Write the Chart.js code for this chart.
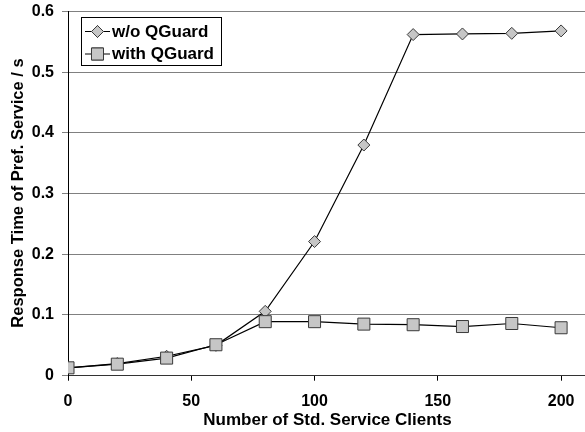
<!DOCTYPE html>
<html><head><meta charset="utf-8">
<script src="https://cdn.jsdelivr.net/npm/chart.js@4/dist/chart.umd.min.js"></script>
<style>html,body{margin:0;padding:0;background:#fff}#wrap{width:585px;height:432px;position:relative}</style>
</head><body><div id="wrap"><canvas id="c" width="585" height="432"></canvas></div>
<script>
const clients = [0, 20, 40, 60, 80, 100, 120, 140, 160, 180, 200];
const withoutQGuard = [0.013, 0.020, 0.032, 0.050, 0.106, 0.221, 0.380, 0.562, 0.563, 0.564, 0.568];
const withQGuard = [0.013, 0.019, 0.029, 0.051, 0.089, 0.089, 0.085, 0.084, 0.081, 0.086, 0.079];
const yTicks = [0, 0.1, 0.2, 0.3, 0.4, 0.5, 0.6];
const xTicks = [0, 50, 100, 150, 200];
const seriesNames = ['w/o QGuard', 'with QGuard'];
const xTitle = 'Number of Std. Service Clients';
const yTitle = 'Response Time of Pref. Service / s';

const FAM = '"Liberation Sans", Arial, sans-serif';
const toPts = (ys) => clients.map((x, i) => ({x, y: ys[i]}));

const overlay = {
  id: 'overlay',
  afterDraw(chart) {
    const ctx = chart.ctx;
    const ca = chart.chartArea;
    ctx.save();
    ctx.fillStyle = '#000';
    ctx.textAlign = 'center';
    ctx.textBaseline = 'middle';
    ctx.font = 'bold 17px ' + FAM;
    ctx.fillText(xTitle, (ca.left + ca.right) / 2 + 1, 420);
    ctx.font = 'bold 16.5px ' + FAM;
    ctx.translate(18, 193);
    ctx.rotate(-Math.PI / 2);
    ctx.fillText(yTitle, 0, 0);
    ctx.restore();
    // legend
    ctx.save();
    const bx = 81, by = 17, bw = 140, bh = 48;
    ctx.fillStyle = '#fff';
    ctx.fillRect(bx, by, bw, bh);
    ctx.strokeStyle = '#000';
    ctx.lineWidth = 1;
    ctx.strokeRect(bx + 0.5, by + 0.5, bw, bh);
    const rows = [31.5, 54];
    chart.data.datasets.forEach((ds, i) => {
      const yy = rows[i];
      ctx.strokeStyle = '#000';
      ctx.lineWidth = 1;
      ctx.beginPath(); ctx.moveTo(85, yy); ctx.lineTo(110, yy); ctx.stroke();
      ctx.fillStyle = ds.pointBackgroundColor;
      ctx.strokeStyle = ds.pointBorderColor;
      Chart.helpers.drawPoint(ctx, {pointStyle: ds.pointStyle, radius: ds.pointRadius, borderWidth: 1, rotation: 0}, 97.5, yy);
      ctx.fill(); ctx.stroke();
      ctx.fillStyle = '#000';
      ctx.font = 'bold 17px ' + FAM;
      ctx.textAlign = 'left';
      ctx.textBaseline = 'middle';
      ctx.fillText(ds.label, 112, yy + 0.5);
    });
    ctx.restore();
  }
};

new Chart(document.getElementById('c'), {
  type: 'line',
  data: {
    datasets: [
      {label: seriesNames[0], data: toPts(withoutQGuard), order: 1, borderColor: '#000', borderWidth: 1.2,
       pointStyle: 'rectRot', pointRadius: 6, pointBackgroundColor: '#c6c6c6', pointBorderColor: '#3a3a3a', pointBorderWidth: 1, tension: 0},
      {label: seriesNames[1], data: toPts(withQGuard), order: 0, borderColor: '#000', borderWidth: 1.2,
       pointStyle: 'rect', pointRadius: 8.5, pointBackgroundColor: '#c6c6c6', pointBorderColor: '#3a3a3a', pointBorderWidth: 1, tension: 0}
    ]
  },
  options: {
    responsive: false, animation: false, devicePixelRatio: 1,
    layout: {autoPadding: false, padding: {top: 11.5, right: 0, left: 0, bottom: 0}},
    plugins: {legend: {display: false}, tooltip: {enabled: false}},
    scales: {
      x: {
        type: 'linear', min: 0, max: 209.7,
        afterBuildTicks: (s) => { s.ticks = xTicks.map(v => ({value: v})); },
        afterFit: (s) => { s.height = 56.3; s.paddingLeft = 0; s.paddingRight = 0; },
        grid: {drawOnChartArea: false, drawTicks: true, tickLength: 5, color: '#000'},
        border: {color: '#333', width: 1},
        ticks: {color: '#000', font: {family: FAM, size: 16, weight: 'bold'}, padding: 11, maxRotation: 0}
      },
      y: {
        min: 0, max: 0.6,
        afterBuildTicks: (s) => { s.ticks = yTicks.map(v => ({value: v})); },
        afterFit: (s) => { s.width = 68; s.paddingTop = 0; s.paddingBottom = 0; },
        grid: {color: '#808080', lineWidth: 1, tickLength: 6},
        border: {color: '#000', width: 1},
        ticks: {color: '#000', font: {family: FAM, size: 16, weight: 'bold'}, padding: 8,
          callback: (v) => v === 0 ? '0' : v.toFixed(1)}
      }
    }
  },
  plugins: [overlay]
});
</script></body></html>
